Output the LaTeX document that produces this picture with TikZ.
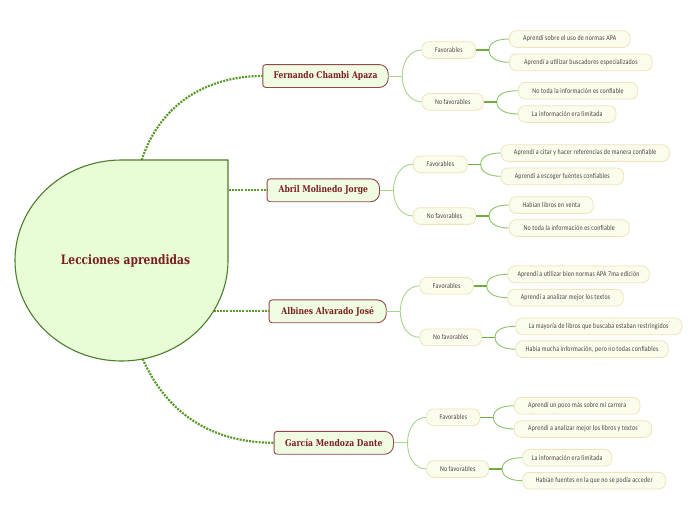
\documentclass[tikz,border=0pt]{standalone}
\usepackage{fontspec}
\setmainfont{Carlito}
\newfontfamily\titlefont[FakeStretch=0.82]{DejaVu Serif}
\newfontfamily\leaffont[FakeStretch=0.8,LetterSpace=3]{Carlito}
\usetikzlibrary{backgrounds}
\definecolor{centralfill}{HTML}{E8FCD5}
\definecolor{centralborder}{HTML}{4E7D2F}
\definecolor{mainfill}{HTML}{F0FCE2}
\definecolor{mainborder}{HTML}{8E4A4A}
\definecolor{titlered}{HTML}{7A1F1F}
\definecolor{pillfill}{HTML}{FAFCEC}
\definecolor{pillborder}{HTML}{EFE4BC}
\definecolor{leaftext}{HTML}{4A4040}
\definecolor{dotgreen}{HTML}{5B9B2B}
\definecolor{palegreen}{HTML}{A9D48E}
\definecolor{forkgreen}{HTML}{6FAE3D}
\definecolor{leafgreen}{HTML}{8CC56A}
\tikzset{
  mainnode/.style={inner sep=0pt, minimum height=22.5pt, text=titlered,
    font=\titlefont\bfseries\fontsize{9.3}{10}\selectfont},
  pill/.style={draw=pillborder, fill=pillfill, rounded corners=7pt, inner sep=0pt,
    minimum height=16.7pt, line width=0.8pt, text=leaftext,
    font=\leaffont\fontsize{7.4}{8}\selectfont},
  dotlink/.style={draw=dotgreen, line width=2.2pt, dash pattern=on 2pt off 1.2pt},
  mainlink/.style={draw=palegreen, line width=0.9pt},
  forklink/.style={draw=forkgreen, line width=1.6pt},
  leaflink/.style={draw=leafgreen, line width=0.9pt},
}
\begin{document}
\begin{tikzpicture}[x=1pt,y=1pt]
\useasboundingbox (0,0) rectangle (696,-520);

% main nodes
\node[mainnode, minimum width=125pt] (m1) at (325.5,-76) {Fernando Chambi Apaza};
\node[mainnode, minimum width=112pt] (m2) at (323.3,-190.3) {Abril Molinedo Jorge};
\node[mainnode, minimum width=116.7pt] (m3) at (327.7,-311.3) {Albines Alvarado José};
\node[mainnode, minimum width=119pt] (m4) at (333.8,-442.8) {García Mendoza Dante};

\begin{pgfonlayer}{background}
\fill[white] (0,0) rectangle (696,-520);
\foreach \n in {m1,m2,m3,m4}{
  \path[draw=mainborder, fill=mainfill, line width=0.9pt]
    (\n.west) [rounded corners=3pt] -- (\n.north west) -- (\n.north)
    [rounded corners=9pt] -- (\n.north east) -- (\n.south east) -- (\n.south)
    [rounded corners=3pt] -- (\n.south west) -- cycle;
}
\end{pgfonlayer}

% central shape connectors
\coordinate (c1) at (141.7,-160);
\coordinate (c2) at (228.5,-190.3);
\coordinate (c3) at (213.6,-311.3);
\coordinate (c4) at (142.7,-359);
\draw[dotlink] (c1) to[out=72,in=180] (m1.west);
\draw[dotlink] (c2) -- (m2.west);
\draw[dotlink] (c3) -- (m3.west);
\draw[dotlink] (c4) to[out=-66,in=180] (m4.west);

% central shape
\filldraw[fill=centralfill, draw=centralborder, line width=1.1pt]
  (228,-160) -- (121.5,-160)
  arc[start angle=90, end angle=270, x radius=106.5pt, y radius=100.5pt]
  arc[start angle=270, end angle=360, x radius=106.5pt, y radius=100.5pt]
  -- cycle;
\node[text=titlered, font=\titlefont\bfseries\fontsize{13}{14}\selectfont] (central) at (125.5,-260.7) {Lecciones aprendidas};

% level 2
\node[pill, minimum width=53.7pt] (f1) at (448.8,-50) {Favorables};
\node[pill, minimum width=61.3pt] (n1) at (452.7,-101.8) {No favorables};
\node[pill, minimum width=54pt] (f2) at (440.3,-164.3) {Favorables};
\node[pill, minimum width=62.4pt] (n2) at (444.5,-216) {No favorables};
\node[pill, minimum width=53.3pt] (f3) at (446.7,-285.7) {Favorables};
\node[pill, minimum width=61.7pt] (n3) at (450.8,-337.3) {No favorables};
\node[pill, minimum width=53.3pt] (f4) at (453.3,-417.3) {Favorables};
\node[pill, minimum width=62pt] (n4) at (457.7,-469) {No favorables};

% leaves
\node[pill, minimum width=120.7pt] (l11) at (569.7,-39) {Aprendí sobre el uso de normas APA};
\node[pill, minimum width=143pt] (l12) at (580.8,-62.3) {Aprendí a utilizar buscadores especializados};
\node[pill, minimum width=119.4pt] (l13) at (578,-90.7) {No toda la información es confiable};
\node[pill, minimum width=97.7pt] (l14) at (567.2,-114) {La información era limitada};
\node[pill, minimum width=168.3pt] (l21) at (585.2,-153) {Aprendí a citar y hacer referencias de manera confiable};
\node[pill, minimum width=122.7pt] (l22) at (562.3,-176.3) {Aprendí a escoger fuentes confiables};
\node[pill, minimum width=84pt] (l23) at (551.3,-205) {Habían libros en venta};
\node[pill, minimum width=120pt] (l24) at (569.3,-228) {No toda la información es confiable};
\node[pill, minimum width=141.6pt] (l31) at (578.5,-274.3) {Aprendí a utilizar bien normas APA 7ma edición};
\node[pill, minimum width=115.6pt] (l32) at (565.5,-297.7) {Aprendí a analizar mejor los textos};
\node[pill, minimum width=166pt] (l33) at (598.7,-326.3) {La mayoría de libros que buscaba estaban restringidos};
\node[pill, minimum width=152.6pt] (l34) at (592,-349.2) {Había mucha información, pero no todas confiables};
\node[pill, minimum width=125.7pt] (l41) at (577.2,-405.7) {Aprendí un poco más sobre mi carrera};
\node[pill, minimum width=137.4pt] (l42) at (583,-429) {Aprendí a analizar mejor los libros y textos};
\node[pill, minimum width=89pt] (l43) at (567.2,-457.7) {La información era limitada};
\node[pill, minimum width=143pt] (l44) at (594.2,-480.7) {Habían fuentes en la que no se podía acceder};

% main -> level 2
\foreach \m/\f/\n in {m1/f1/n1, m2/f2/n2, m3/f3/n3, m4/f4/n4}{
  \coordinate (k\m) at ([xshift=14pt]\m.east);
  \draw[mainlink] (\m.east) -- (k\m);
  \draw[mainlink] (k\m) to[out=90,in=180] (\f.west);
  \draw[mainlink] (k\m) to[out=-90,in=180] (\n.west);
}

% level 2 -> leaves
\foreach \p/\a/\b in {f1/l11/l12, n1/l13/l14, f2/l21/l22, n2/l23/l24, f3/l31/l32, n3/l33/l34, f4/l41/l42, n4/l43/l44}{
  \coordinate (k\p) at ([xshift=13pt]\p.east);
  \draw[leaflink] (k\p) to[out=90,in=180] (\a.west);
  \draw[leaflink] (k\p) to[out=-90,in=180] (\b.west);
  \draw[forklink] (\p.east) -- (k\p);
}
\end{tikzpicture}
\end{document}
